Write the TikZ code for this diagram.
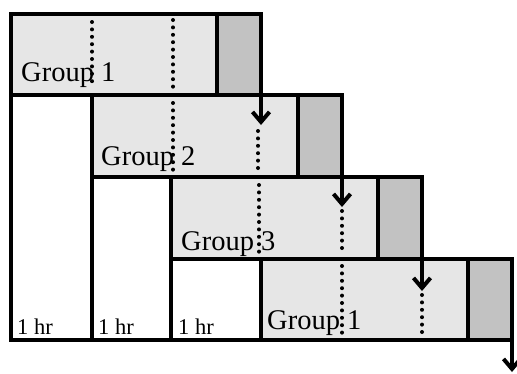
\documentclass[tikz,border=0pt]{standalone}
\usepackage{fontspec}
\setmainfont{Liberation Serif}
\usetikzlibrary{arrows.meta}
\definecolor{lightg}{HTML}{E6E6E6}
\definecolor{darkg}{HTML}{C2C2C2}
\tikzset{
  thickline/.style={line width=4pt},
  grp/.style={fill=lightg, line width=4pt},
  tail/.style={fill=darkg, line width=4pt},
  dots/.style={line width=4pt, line cap=round, dash pattern=on 0pt off 7.4pt},
  arr/.style={line width=4pt, -{Straight Barb[length=10pt,width=17pt,line width=4pt]}},
  glabel/.style={font=\fontsize{28.5}{28.5}\selectfont, anchor=base west, inner sep=0pt},
  hlabel/.style={font=\fontsize{22.5}{22.5}\selectfont, anchor=base west, inner sep=0pt}
}
\begin{document}
\begin{tikzpicture}[x=1pt,y=-1pt]
\useasboundingbox (0,0) rectangle (517,373);
% columns
\def\A{11}\def\B{92}\def\C{171}\def\D{261}\def\E{342}\def\F{422}\def\G{512}
% rows
\def\ra{14}\def\rb{95}\def\rc{177}\def\rd{259}\def\re{340}
% groups
\draw[grp] (\A,\ra) rectangle (\D,\rb);
\draw[grp] (\B,\rb) rectangle (\E,\rc);
\draw[grp] (\C,\rc) rectangle (\F,\rd);
\draw[grp] (\D,\rd) rectangle (\G,\re);
% tails
\draw[tail] (\D-44,\ra) rectangle (\D,\rb);
\draw[tail] (\E-44,\rb) rectangle (\E,\rc);
\draw[tail] (\F-44,\rc) rectangle (\F,\rd);
\draw[tail] (\G-44,\rd) rectangle (\G,\re);
% white hour blocks
\draw[thickline] (\A,\ra) -- (\A,\re) -- (\G,\re);
\draw[thickline] (\B,\rb) -- (\B,\re);
\draw[thickline] (\C,\rc) -- (\C,\re);
\draw[thickline] (\D,\rd) -- (\D,\re);
% labels
\node[glabel] (g1) at (21,81) {Group 1};
\node[glabel] (g2) at (101,165) {Group 2};
\node[glabel] (g3) at (181,250) {Group 3};
\node[glabel] (g4) at (267,329) {Group 1};
\node[hlabel] (h1) at (17,334) {1 hr};
\node[hlabel] (h2) at (98,334) {1 hr};
\node[hlabel] (h3) at (178,334) {1 hr};
% dotted lines
\draw[dots] (\B,22) -- (\B,88);
\draw[dots] (\C+2,20) -- (\C+2,88);
\draw[dots] (\C+2,103) -- (\C+2,170);
\draw[dots] (\D-3,131) -- (\D-3,173);
\draw[dots] (\D-2,185) -- (\D-2,253);
\draw[dots] (\E,211) -- (\E,253);
\draw[dots] (\E,266) -- (\E,334);
\draw[dots] (\F,295) -- (\F,334);
% arrows
\coordinate (a1s) at (\D,\rb-2); \coordinate (a1e) at (\D,125);
\coordinate (a2s) at (\E,\rc-2); \coordinate (a2e) at (\E,207);
\coordinate (a3s) at (\F,\rd-2); \coordinate (a3e) at (\F,291);
\coordinate (a4s) at (\G,\re-2); \coordinate (a4e) at (\G,372);
\draw[arr] (a1s) -- (a1e);
\draw[arr] (a2s) -- (a2e);
\draw[arr] (a3s) -- (a3e);
\draw[arr] (a4s) -- (a4e);
\end{tikzpicture}
\end{document}
